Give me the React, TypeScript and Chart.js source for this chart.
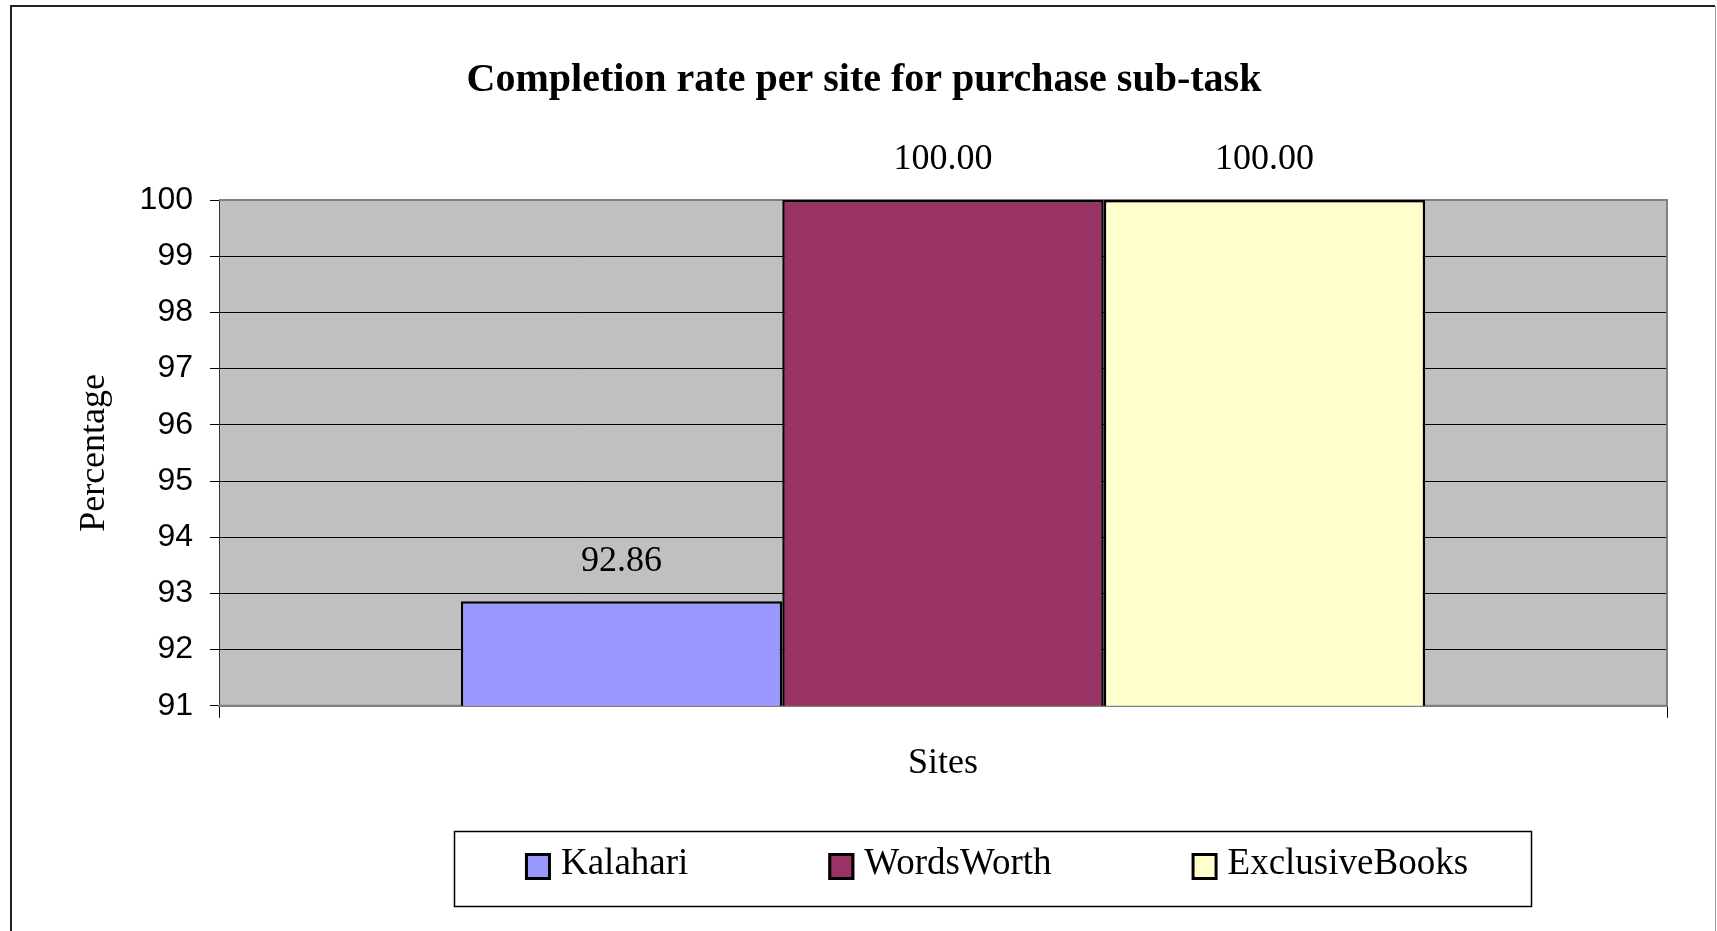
import React, { useEffect, useRef } from "react";
import { Chart, registerables } from "chart.js";

Chart.register(...registerables);

// ---- data ----
const categories = [""];
const siteNames = ["Kalahari", "WordsWorth", "ExclusiveBooks"];
const siteValues = [92.86, 100.0, 100.0];
const siteColors = ["#9999FF", "#993366", "#FFFFCC"];
const yMin = 91;
const yMax = 100;
const yStep = 1;
const chartTitle = "Completion rate per site for purchase sub-task";
const yTitle = "Percentage";
const xTitle = "Sites";

// ---- styling ----
const W = 1717;
const H = 931;
const SERIF = '"Liberation Serif", "Times New Roman", serif';
const SANS = '"Liberation Sans", Arial, sans-serif';
const LEGEND_BOX = { left: 454, top: 831, width: 1077, height: 75 };

const plotBackground = {
  id: "plotBackground",
  beforeDraw(chart: any) {
    const { ctx, chartArea: a } = chart;
    ctx.save();
    ctx.fillStyle = "#C0C0C0";
    ctx.fillRect(a.left, a.top, a.right - a.left, a.bottom - a.top);
    ctx.restore();
  },
  beforeDatasetsDraw(chart: any) {
    const { ctx, chartArea: a } = chart;
    ctx.save();
    ctx.strokeStyle = "#808080";
    ctx.lineWidth = 2;
    ctx.beginPath();
    ctx.moveTo(a.left, a.top);
    ctx.lineTo(a.right, a.top);
    ctx.lineTo(a.right, a.bottom);
    ctx.lineTo(a.left, a.bottom);
    ctx.stroke();
    ctx.restore();
  },
};

const valueLabels = {
  id: "valueLabels",
  afterDatasetsDraw(chart: any) {
    const { ctx } = chart;
    ctx.save();
    ctx.font = `36px ${SERIF}`;
    ctx.fillStyle = "#000";
    ctx.textAlign = "center";
    ctx.textBaseline = "middle";
    chart.data.datasets.forEach((ds: any, i: number) => {
      const meta = chart.getDatasetMeta(i);
      meta.data.forEach((el: any, j: number) => {
        const v = ds.data[j];
        ctx.fillText(Number(v).toFixed(2), el.x, el.y - 40);
      });
    });
    ctx.restore();
  },
};

const boxLegend = {
  id: "boxLegend",
  afterDraw(chart: any) {
    const { ctx } = chart;
    const b = LEGEND_BOX;
    ctx.save();
    ctx.strokeStyle = "#000";
    ctx.lineWidth = 1.5;
    ctx.strokeRect(b.left + 0.5, b.top + 0.5, b.width, b.height);
    ctx.font = `37px ${SERIF}`;
    ctx.textBaseline = "middle";
    ctx.textAlign = "left";
    const sw = 26;
    const sh = 27;
    const textGap = 10;
    const itemGap = 140;
    const datasets = chart.data.datasets;
    const widths = datasets.map(
      (ds: any) => sw + textGap + ctx.measureText(ds.label).width
    );
    const total =
      widths.reduce((s: number, w: number) => s + w, 0) +
      itemGap * (datasets.length - 1);
    let x = b.left + (b.width - total) / 2 + 4;
    const cy = b.top + b.height / 2 - 4;
    datasets.forEach((ds: any, i: number) => {
      const top = cy - sh / 2 + 2;
      ctx.fillStyle = ds.backgroundColor;
      ctx.fillRect(x, top, sw, sh);
      ctx.strokeStyle = "#000";
      ctx.lineWidth = 3;
      ctx.strokeRect(x + 1.5, top + 1.5, sw - 3, sh - 3);
      ctx.fillStyle = "#000";
      ctx.fillText(ds.label, x + sw + textGap, cy);
      x += widths[i] + itemGap;
    });
    ctx.restore();
  },
};

const outerBorder = {
  id: "outerBorder",
  afterDraw(chart: any) {
    const { ctx } = chart;
    ctx.save();
    ctx.strokeStyle = "#222";
    ctx.lineWidth = 2;
    ctx.beginPath();
    ctx.moveTo(11, H + 5);
    ctx.lineTo(11, 6);
    ctx.lineTo(1715, 6);
    ctx.stroke();
    ctx.strokeStyle = "#999";
    ctx.lineWidth = 1;
    ctx.beginPath();
    ctx.moveTo(1715.5, 6);
    ctx.lineTo(1715.5, H + 5);
    ctx.stroke();
    ctx.restore();
  },
};

export default function App() {
  const canvasRef = useRef<HTMLCanvasElement | null>(null);

  useEffect(() => {
    document.body.style.margin = "0";
    const canvas = canvasRef.current;
    if (!canvas) return;
    const chart = new Chart(canvas, {
      type: "bar",
      data: {
        labels: categories,
        datasets: siteNames.map((name, i) => ({
          label: name,
          data: [siteValues[i]],
          backgroundColor: siteColors[i],
          borderColor: "#000",
          borderWidth: 2.5,
          borderSkipped: false,
          categoryPercentage: 0.666,
          barPercentage: 1,
        })),
      },
      options: {
        responsive: false,
        animation: false,
        devicePixelRatio: 1,
        layout: { padding: { left: 61, right: 50, top: 0, bottom: 146 } },
        plugins: {
          legend: { display: false },
          tooltip: { enabled: false },
          title: {
            display: true,
            text: chartTitle,
            color: "#000",
            font: { family: SERIF, size: 40, weight: "bold", lineHeight: 1.2 },
            padding: { top: 56.5, bottom: 95.5 },
          },
        },
        scales: {
          x: {
            type: "category",
            offset: true,
            grid: {
              display: true,
              drawOnChartArea: false,
              offset: true,
              tickLength: 12,
              color: "#000",
              lineWidth: 1,
            },
            border: { display: true, color: "#808080", width: 2 },
            ticks: { display: false },
            title: {
              display: true,
              text: xTitle,
              color: "#000",
              font: { family: SERIF, size: 36, lineHeight: 1.2 },
              padding: { top: 24, bottom: 0 },
            },
          },
          y: {
            min: yMin,
            max: yMax,
            ticks: {
              stepSize: yStep,
              color: "#000",
              font: { family: SANS, size: 32 },
              padding: 17,
            },
            grid: {
              color: "#000",
              lineWidth: 1,
              tickLength: 9,
            },
            border: { display: true, color: "#333", width: 1 },
            title: {
              display: true,
              text: yTitle,
              color: "#000",
              font: { family: SERIF, size: 36, lineHeight: 1.2 },
              padding: { top: 12.4, bottom: 0 },
            },
            afterFit(scale: any) {
              scale.width = 158;
            },
          },
        },
      },
      plugins: [plotBackground, valueLabels, boxLegend, outerBorder],
    } as any);
    return () => chart.destroy();
  }, []);

  return (
    <div style={{ width: W, height: H, background: "#fff" }}>
      <canvas
        ref={canvasRef}
        width={W}
        height={H}
        style={{ display: "block", width: W, height: H }}
      />
    </div>
  );
}
